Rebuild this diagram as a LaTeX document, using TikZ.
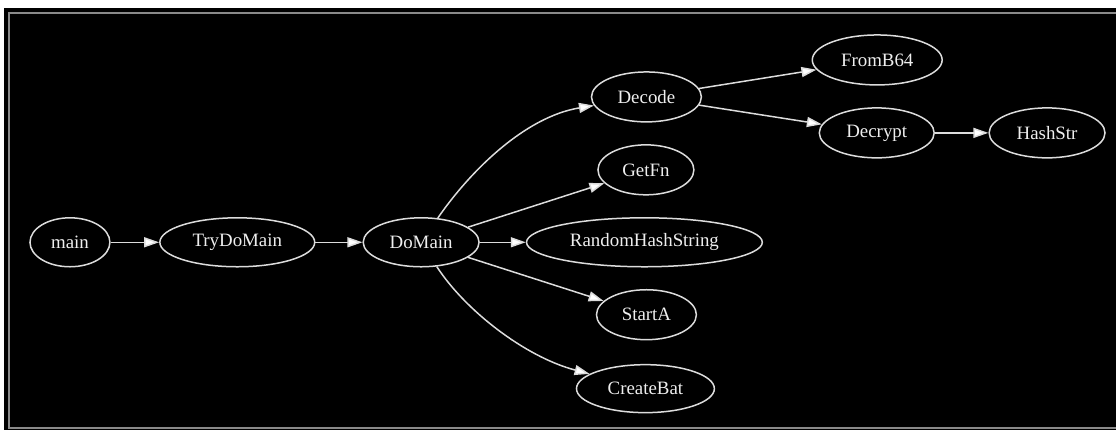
\documentclass[tikz,border=0pt]{standalone}
\usepackage{fontspec}
\setmainfont{Liberation Serif}
\usetikzlibrary{shapes.geometric,arrows.meta}
\definecolor{ln}{HTML}{DCDCDC}
\definecolor{tx}{HTML}{EEEEEE}
\definecolor{frame}{HTML}{8A8A8A}
\tikzset{
  fn/.style={ellipse, draw=ln, line width=1.5pt, text=tx, inner sep=0pt,
    font=\fontsize{18.9}{22}\selectfont},
  edge/.style={draw=ln, line width=1.5pt, -{Triangle[length=15pt,width=10pt,fill=white]}},
}
\begin{document}
\begin{tikzpicture}[x=1pt,y=-1pt]
\fill[white] (0,0) rectangle (1117,430);
\fill[black] (4,8) rectangle (1117,430);
\draw[frame, line width=2pt] (1117,13.5) -- (9.5,13.5) -- (9.5,428.5) -- (1117,428.5);
\useasboundingbox (0,0) rectangle (1117,430);

\node[fn, minimum width=80pt, minimum height=49pt] (main) at (70,242.5) {main};
\node[fn, minimum width=155pt, minimum height=49pt] (try) at (237.5,242.5) {TryDoMain};
\node[fn, minimum width=116pt, minimum height=49pt] (dom) at (421.5,242.5) {DoMain};
\node[fn, minimum width=236pt, minimum height=49pt] (rhs) at (645,242.5) {RandomHashString};
\node[fn, minimum width=110pt, minimum height=50pt] (dec) at (647,97) {Decode};
\node[fn, minimum width=96pt, minimum height=50pt] (getfn) at (646.5,170) {GetFn};
\node[fn, minimum width=100pt, minimum height=50pt] (starta) at (647,315) {StartA};
\node[fn, minimum width=138pt, minimum height=48pt] (cbat) at (646,389) {CreateBat};
\node[fn, minimum width=130pt, minimum height=50pt] (fb64) at (878,60) {FromB64};
\node[fn, minimum width=115pt, minimum height=50pt] (decr) at (877.5,133) {Decrypt};
\node[fn, minimum width=116pt, minimum height=50pt] (hstr) at (1048,133) {HashStr};

\draw[edge] (main) -- (try);
\draw[edge] (try) -- (dom);
\draw[edge] (dom) .. controls (470,172) and (525,117) .. (dec);
\draw[edge] (dom) -- (getfn);
\draw[edge] (dom) -- (rhs);
\draw[edge] (dom) -- (starta);
\draw[edge] (dom) .. controls (465,310) and (525,357) .. (cbat);
\draw[edge] (dec) -- (fb64);
\draw[edge] (dec) -- (decr);
\draw[edge] (decr) -- (hstr);
\end{tikzpicture}
\end{document}
